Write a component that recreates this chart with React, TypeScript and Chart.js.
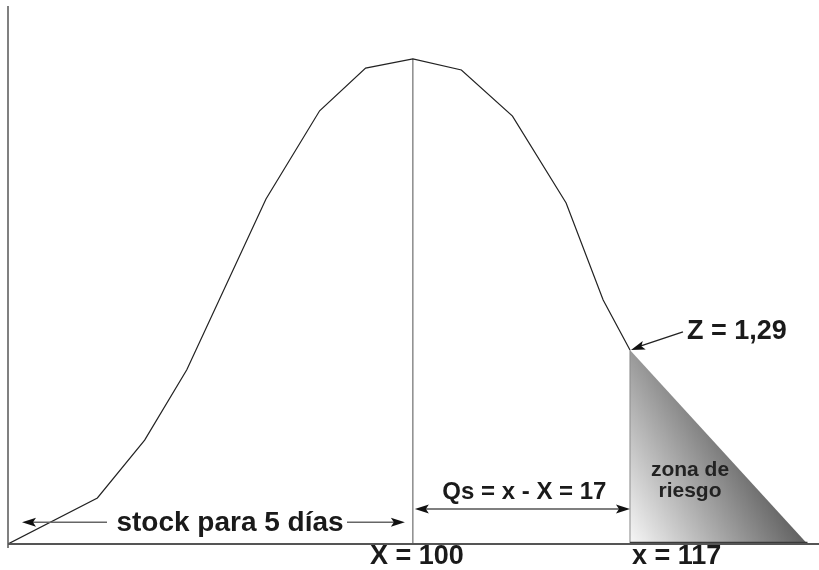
import React, { useEffect, useRef } from "react";
import { Chart, registerables } from "chart.js";

Chart.register(...registerables);

// Demand curve (distribution of consumption during the lead time)
const curveX = [68.3, 75.3, 79.0, 82.3, 88.5, 92.7, 96.3, 100, 103.8, 107.8, 112.0, 114.9, 117];
const curveY = [0, 9.5, 21.4, 35.9, 71.1, 89.3, 98.1, 100, 97.7, 88.2, 70.3, 50.3, 40.0];

// Risk zone: from the curve at x = 117 down to the tail end
const riskX = [117, 130.9];
const riskY = [40.0, 0];

const meanValue = 100; // X = 100
const limitValue = 117; // x = 117
const xMin = 68.3;
const xMax = 131.8;
const yMax = 111.1;

const labelMean = "X = 100";
const labelLimit = "x = 117";
const labelZ = "Z = 1,29";
const labelQs = "Qs = x - X = 17";
const labelStock = "stock para 5 días";
const labelZone = ["zona de", "riesgo"];

const FONT = "'Liberation Sans', Arial, sans-serif";

function arrowHead(ctx: CanvasRenderingContext2D, tipX: number, tipY: number, fromX: number, fromY: number) {
  const ang = Math.atan2(tipY - fromY, tipX - fromX);
  const len = 14;
  const half = 4.5;
  ctx.save();
  ctx.translate(tipX, tipY);
  ctx.rotate(ang);
  ctx.beginPath();
  ctx.moveTo(0, 0);
  ctx.lineTo(-len, -half);
  ctx.lineTo(-len + 3, 0);
  ctx.lineTo(-len, half);
  ctx.closePath();
  ctx.fillStyle = "#111";
  ctx.fill();
  ctx.restore();
}

function line(ctx: CanvasRenderingContext2D, x1: number, y1: number, x2: number, y2: number, color: string, w: number) {
  ctx.beginPath();
  ctx.moveTo(x1, y1);
  ctx.lineTo(x2, y2);
  ctx.strokeStyle = color;
  ctx.lineWidth = w;
  ctx.stroke();
}

const annotations = {
  id: "stockAnnotations",
  beforeDatasetsDraw(chart: any) {
    const { ctx, chartArea, scales } = chart;
    const xs = scales.x;
    const ys = scales.y;
    const base = ys.getPixelForValue(0);
    ctx.save();
    // axes
    line(ctx, chartArea.left, chartArea.top + 1, chartArea.left, base + 4, "#808080", 2);
    // mean vertical line
    const mx = xs.getPixelForValue(meanValue);
    line(ctx, mx, ys.getPixelForValue(100), mx, base, "#6e6e6e", 1.2);
    ctx.restore();
  },
  afterDatasetsDraw(chart: any) {
    const { ctx, chartArea, scales } = chart;
    const xs = scales.x;
    const ys = scales.y;
    const base = ys.getPixelForValue(0);
    const mx = xs.getPixelForValue(meanValue);
    const lx = xs.getPixelForValue(limitValue);
    const ly = ys.getPixelForValue(riskY[0]);
    const ex = xs.getPixelForValue(riskX[1]);
    ctx.save();

    // risk zone edges
    line(ctx, lx, ly, lx, base, "#8a8a8a", 1);
    line(ctx, lx, base - 1.5, ex, base - 1.5, "#3a3a3a", 1.5);

    // baseline
    line(ctx, chartArea.left, base, chartArea.right, base, "#555", 2);

    // stock arrows
    const sy = ys.getPixelForValue(4.5);
    const sl = chartArea.left + 14;
    const sr = mx - 8;
    line(ctx, sl + 8, sy, 107, sy, "#666", 1.5);
    arrowHead(ctx, sl, sy, sl + 20, sy);
    line(ctx, 347, sy, sr - 8, sy, "#666", 1.5);
    arrowHead(ctx, sr, sy, sr - 20, sy);

    // Qs arrow
    const qy = ys.getPixelForValue(7.2);
    line(ctx, mx + 10, qy, lx - 10, qy, "#555", 1.5);
    arrowHead(ctx, mx + 2, qy, mx + 20, qy);
    arrowHead(ctx, lx, qy, lx - 20, qy);

    // Z arrow
    line(ctx, lx + 53, ly - 18, lx + 8, ly - 3, "#222", 1.3);
    arrowHead(ctx, lx + 1, ly, lx + 53, ly - 18);

    // texts
    ctx.fillStyle = "#1a1a1a";
    ctx.textBaseline = "alphabetic";
    ctx.font = `bold 28px ${FONT}`;
    ctx.textAlign = "center";
    ctx.fillText(labelStock, 230, 531);
    ctx.font = `bold 27px ${FONT}`;
    ctx.fillText(labelMean, mx + 4, 564);
    ctx.textAlign = "left";
    ctx.fillText(labelLimit, lx + 2, 564);
    ctx.fillText(labelZ, lx + 57, 339);
    ctx.font = `bold 24px ${FONT}`;
    ctx.textAlign = "center";
    ctx.fillText(labelQs, (mx + lx) / 2 + 3, 499);
    ctx.font = `bold 21px ${FONT}`;
    ctx.fillStyle = "#222";
    ctx.fillText(labelZone[0], lx + 60, 476);
    ctx.fillText(labelZone[1], lx + 60, 497);
    ctx.restore();
  },
};

export default function App() {
  const ref = useRef<HTMLCanvasElement | null>(null);

  useEffect(() => {
    document.body.style.margin = "0";
    const canvas = ref.current!;
    const chart = new Chart(canvas, {
      type: "line",
      data: {
        datasets: [
          {
            data: curveX.map((x, i) => ({ x, y: curveY[i] })),
            borderColor: "#222",
            borderWidth: 1.2,
            pointRadius: 0,
            fill: false,
            tension: 0,
          },
          {
            data: riskX.map((x, i) => ({ x, y: riskY[i] })),
            borderWidth: 0,
            borderColor: "rgba(0,0,0,0)",
            pointRadius: 0,
            fill: "origin",
            tension: 0,
            backgroundColor: (c: any) => {
              const ch = c.chart;
              const area = ch.chartArea;
              if (!area) return "#999";
              const px = (v: number) => area.left + ((v - xMin) / (xMax - xMin)) * (area.right - area.left);
              const py = (v: number) => area.bottom - (v / yMax) * (area.bottom - area.top);
              const x0 = px(riskX[0]);
              const x1 = px(riskX[1]);
              const y0 = py(0);
              const yt = py(riskY[0]);
              if (![x0, x1, y0, yt].every(Number.isFinite)) return "#999";
              const g = ch.ctx.createLinearGradient(
                x0,
                y0,
                x0 + (x1 - x0) * 0.79,
                y0 - (y0 - yt) * 0.41
              );
              g.addColorStop(0, "#f7f7f7");
              g.addColorStop(1, "#5a5a5a");
              return g;
            },
          },
        ],
      },
      options: {
        animation: false,
        responsive: false,
        layout: { padding: { left: 8, top: 5, right: 0, bottom: 26 } },
        plugins: { legend: { display: false }, tooltip: { enabled: false } },
        scales: {
          x: { type: "linear", min: xMin, max: xMax, display: false },
          y: { type: "linear", min: 0, max: yMax, display: false },
        },
      },
      plugins: [annotations],
    });
    return () => chart.destroy();
  }, []);

  return <canvas ref={ref} width={819} height={570} style={{ display: "block" }} />;
}
